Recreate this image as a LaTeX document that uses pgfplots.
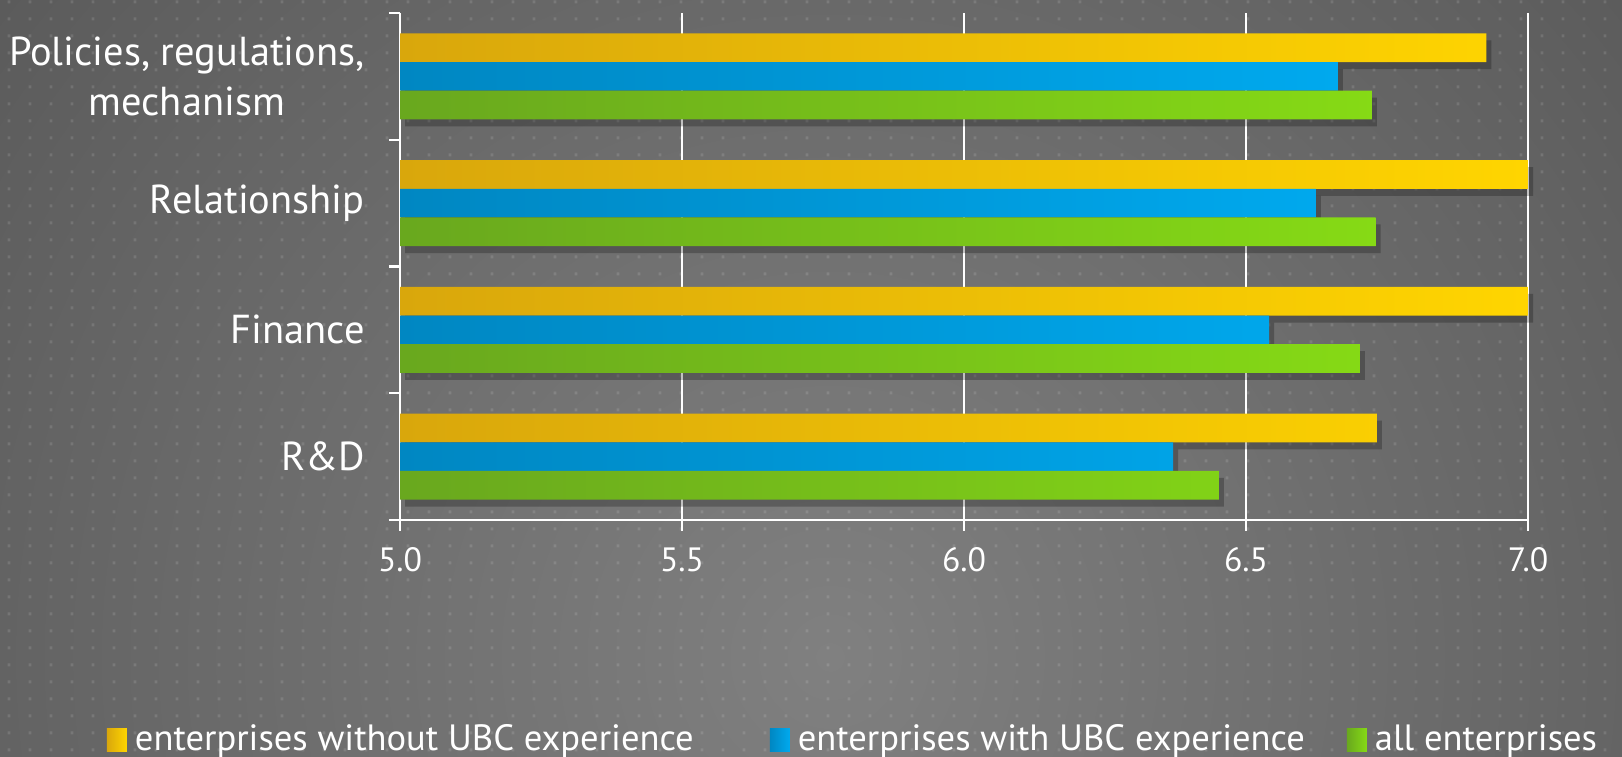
\documentclass[border=0pt]{standalone}
\usepackage{fontspec}
\setmainfont{PT Sans}
\usepackage{pgfplots}
\pgfplotsset{compat=1.18}
\usetikzlibrary{patterns.meta}
\definecolor{bgin}{HTML}{808080}
\definecolor{bgout}{HTML}{3A3A3A}
\definecolor{ydark}{HTML}{D9A70C}
\definecolor{ylight}{HTML}{FFD500}
\definecolor{bdark}{HTML}{0087C2}
\definecolor{blight}{HTML}{00A9EE}
\definecolor{gdark}{HTML}{69A81E}
\definecolor{glight}{HTML}{86DA15}
\tikzdeclarepattern{name=bgdots, type=uncolored,
  bottom left={(0cm,0cm)}, top right={(0.21cm,0.173cm)},
  tile size={(0.21cm,0.173cm)},
  code={\fill (0.09cm,0.07cm) rectangle (0.12cm,0.10cm);}}
\pgfplotstableread{
y   without  with   all
0   6.732    6.371  6.452
1   7.000    6.541  6.702
2   7.000    6.624  6.730
3   6.926    6.663  6.723
}\datatable
\pgfplotsset{shadowbar/.style={xbar, draw=none, fill=black, fill opacity=0.24,
  xshift=0.05cm, yshift=-0.07cm, forget plot}}
\begin{document}
\begin{tikzpicture}
\useasboundingbox (0,0) rectangle (16.22cm,7.57cm);
\begin{scope}
\clip (0,0) rectangle (16.22cm,7.57cm);
\shade[inner color=bgin, outer color=bgout] (8.3cm,1.0cm) circle (20cm);
\fill[pattern=bgdots, pattern color=white, opacity=0.12] (0,0) rectangle (16.22cm,7.57cm);
\end{scope}
\begin{axis}[
  at={(4.00cm,2.37cm)}, anchor=south west,
  width=11.28cm, height=5.07cm, scale only axis,
  xbar, bar width=0.226,
  xmin=5, xmax=7, ymin=-0.5, ymax=3.5,
  axis x line*=bottom, axis y line*=left,
  axis line style={white, line width=0.7pt},
  xtick={5,5.5,6,6.5,7}, xticklabels={5.0,5.5,6.0,6.5,7.0},
  xmajorgrids, grid style={white, line width=0.7pt},
  tick style={white, line width=0.7pt},
  tick align=outside, major tick length=0.11cm,
  xticklabel style={font=\fontsize{9.6}{11}\selectfont, text=white, yshift=-0.04cm},
  ytick={-0.5,0.5,1.5,2.5,3.5}, yticklabels={,,,,},
  extra y ticks={0,1,2,3},
  extra y tick labels={R\&D, Finance, Relationship, {Policies, regulations,\\mechanism}},
  extra y tick style={major tick length=0pt,
    yticklabel style={font=\fontsize{11.5}{14.2}\selectfont, text=white, align=center, anchor=east, xshift=-0.23cm}},
  legend style={at={(-0.2598,-0.434)}, anchor=west, draw=none, fill=none,
    legend columns=3, inner sep=0pt, outer sep=0pt,
    font=\fontsize{10.4}{12.5}\selectfont, text=white,
    nodes={inner xsep=0.08cm, inner ysep=1pt}},
  clip=false,
]
\addplot[shadowbar, bar shift=0.226] table[x=without, y=y] {\datatable};
\addplot[shadowbar, bar shift=0] table[x=with, y=y] {\datatable};
\addplot[shadowbar, bar shift=-0.226] table[x=all, y=y] {\datatable};
\addplot[xbar, bar shift=0.226, draw=none, left color=ydark, right color=ylight,
  legend image code/.code={\shade[left color=ydark, right color=ylight] (0cm,-0.115cm) rectangle (0.2cm,0.115cm);}]
  table[x=without, y=y] {\datatable};
\addlegendentry{enterprises without UBC experience\rule{0.68cm}{0pt}}
\addplot[xbar, bar shift=0, draw=none, left color=bdark, right color=blight,
  legend image code/.code={\shade[left color=bdark, right color=blight] (0cm,-0.115cm) rectangle (0.2cm,0.115cm);}]
  table[x=with, y=y] {\datatable};
\addlegendentry{enterprises with UBC experience\rule{0.34cm}{0pt}}
\addplot[xbar, bar shift=-0.226, draw=none, left color=gdark, right color=glight,
  legend image code/.code={\shade[left color=gdark, right color=glight] (0cm,-0.115cm) rectangle (0.2cm,0.115cm);}]
  table[x=all, y=y] {\datatable};
\addlegendentry{all enterprises}
\end{axis}
\end{tikzpicture}
\end{document}
